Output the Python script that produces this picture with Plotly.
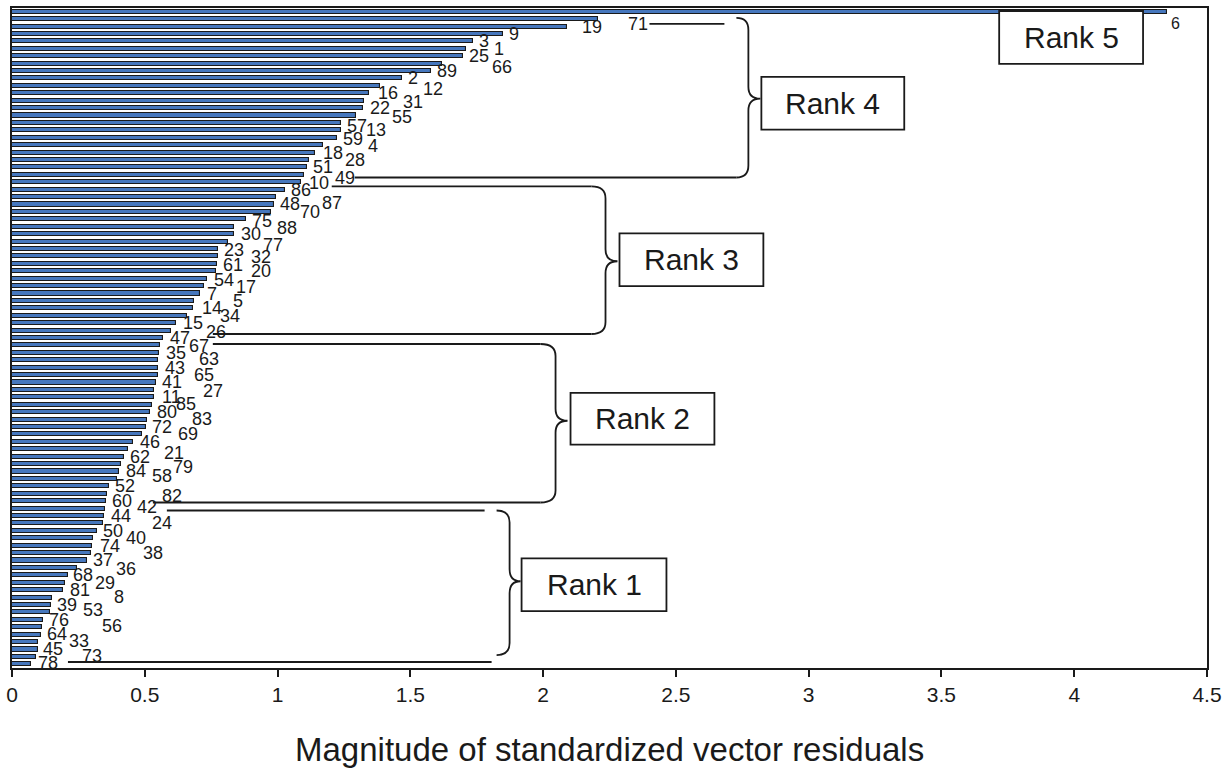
import plotly.graph_objects as go

# ---------------- data (top to bottom, sorted by magnitude) ----------------
case_ids = [6, 71, 19, 9, 3, 1, 25, 66, 89, 2, 12, 16, 31, 22, 55, 57, 13, 59, 4, 18,
            28, 51, 49, 10, 86, 48, 70, 87, 75, 88, 30, 77, 23, 32, 61, 20, 54, 17, 7, 5,
            14, 34, 15, 26, 47, 67, 35, 63, 43, 65, 41, 27, 11, 85, 80, 83, 72, 69, 46, 21,
            62, 79, 84, 58, 52, 82, 60, 42, 44, 24, 50, 40, 74, 38, 37, 36, 68, 29, 81, 8,
            39, 53, 76, 56, 64, 33, 45, 73, 78]
magnitudes = [4.35, 2.205, 2.09, 1.85, 1.735, 1.71, 1.70, 1.62, 1.577, 1.47,
              1.385, 1.345, 1.325, 1.32, 1.294, 1.24, 1.24, 1.224, 1.17, 1.14,
              1.118, 1.11, 1.10, 1.09, 1.027, 0.993, 0.986, 0.977, 0.883, 0.836,
              0.836, 0.813, 0.774, 0.774, 0.772, 0.768, 0.735, 0.724, 0.707, 0.686,
              0.682, 0.66, 0.616, 0.60, 0.57, 0.557, 0.554, 0.551, 0.548, 0.548,
              0.544, 0.535, 0.533, 0.529, 0.519, 0.51, 0.504, 0.488, 0.456, 0.437,
              0.421, 0.409, 0.404, 0.394, 0.365, 0.359, 0.354, 0.35, 0.348, 0.344,
              0.319, 0.306, 0.30, 0.296, 0.281, 0.243, 0.21, 0.20, 0.193, 0.149,
              0.145, 0.143, 0.115, 0.112, 0.108, 0.099, 0.097, 0.09, 0.071]
rank_names = ["Rank 5", "Rank 4", "Rank 3", "Rank 2", "Rank 1"]
x_ticks = [0, 0.5, 1, 1.5, 2, 2.5, 3, 3.5, 4, 4.5]
x_tick_text = ["0", "0.5", "1", "1.5", "2", "2.5", "3", "3.5", "4", "4.5"]
x_title = "Magnitude of standardized vector residuals"

# ---------------- label placement tweaks (pixels, layout only) ----------------
label_dx = [4, 30, 15, 6, 6, 28, 6, 50, 6, 6, 43, 9, 39, 7, 36, 6, 25, 6, 45, 8,
            36, 6, 31, 8, 6, 4, 26, 51, 6, 43, 7, 35, 6, 33, 6, 35, 7, 32, 7, 39,
            9, 33, 7, 35, 7, 29, 7, 41, 7, 36, 6, 49, 8, 24, 7, 45, 6, 36, 7, 36,
            6, 52, 7, 35, 6, 55, 6, 32, 7, 49, 6, 33, 8, 52, 6, 39, 5, 30, 7, 62,
            6, 33, 6, 60, 6, 31, 5, 46, 7]
label_dy = [12, 5, 0, 0, 0, 0, 0, 3, 0, 0, 3, 0, 1, 0, 1, 3, 0, 1, 1, 0,
            0, 0, 3, 1, 0, 7, 7, -9, 2, 1, 0, 3, 1, 1, 1, 0, 1, 1, 0, 0,
            0, 0, 0, 1, 0, 1, 0, -1, 0, 0, 0, 1, 0, -1, 0, -1, 0, 0, 0, 4,
            0, 3, 0, -3, 0, 2, 0, -2, 0, 0, 0, 0, 0, 0, 0, 1, 0, 0, 0, -1,
            0, -2, 0, -1, -1, -1, 0, -1, -1]

W, H = 1228, 773
L, R, T, B = 12, 20, 6, 105
PW, PH = W - L - R, H - T - B
FONT = "Liberation Sans, Arial, Helvetica, sans-serif"
INK = "#1a1a1a"


def px(x):
    return (x - L) / PW


def py(y):
    return 1 - (y - T) / PH


n = len(magnitudes)
positions = list(range(n))

fig = go.Figure()
fig.add_trace(go.Bar(
    x=magnitudes, y=positions, orientation="h", width=0.55,
    marker=dict(color="#4677bd", line=dict(color=INK, width=1.1)),
    hoverinfo="x+text", text=[str(c) for c in case_ids], textposition="none",
    showlegend=False,
))

annotations = []
for i, (cid, val) in enumerate(zip(case_ids, magnitudes)):
    annotations.append(dict(
        x=val, y=i, xref="x", yref="y", text=str(cid), showarrow=False,
        xanchor="left", yanchor="middle", xshift=label_dx[i] - 2, yshift=-label_dy[i],
        font=dict(family=FONT, size=16 if i == 0 else 18, color=INK),
    ))

shapes = []
line_style = dict(color=INK, width=1.8)


def hline(x0, x1, y):
    shapes.append(dict(type="line", xref="paper", yref="paper",
                       x0=px(x0), x1=px(x1), y0=py(y), y1=py(y), line=line_style))


def brace(xl, xv, xt, ytop, ytip, ybot, r=12):
    pts = [
        ("M", [(xl, ytop)]),
        ("Q", [(xv, ytop), (xv, ytop + r)]),
        ("L", [(xv, ytip - r)]),
        ("Q", [(xv, ytip), (xt, ytip)]),
        ("Q", [(xv, ytip), (xv, ytip + r)]),
        ("L", [(xv, ybot - r)]),
        ("Q", [(xv, ybot), (xl, ybot)]),
    ]
    path = " ".join(cmd + " " + " ".join(f"{px(a):.5f},{py(b):.5f}" for a, b in p) for cmd, p in pts)
    shapes.append(dict(type="path", xref="paper", yref="paper", path=path, line=line_style))


def box(x0, y0, x1, y1, label):
    shapes.append(dict(type="rect", xref="paper", yref="paper", layer="above",
                       x0=px(x0), x1=px(x1), y0=py(y1), y1=py(y0),
                       fillcolor="white", line=dict(color=INK, width=1.8)))
    annotations.append(dict(x=px((x0 + x1) / 2), y=py((y0 + y1) / 2), xref="paper", yref="paper",
                            text=label, showarrow=False, xanchor="center", yanchor="middle",
                            font=dict(family=FONT, size=30, color=INK)))


# Rank 4
hline(650, 725, 22)
hline(355, 737, 176)
brace(737, 749, 761, 16, 97, 176)
# Rank 3
hline(332, 592, 185)
hline(213, 592, 333)
brace(592, 606, 618, 185, 260, 333)
# Rank 2
hline(213, 541, 343)
hline(153, 541, 502)
brace(541, 556, 568, 343, 420, 502)
# Rank 1
hline(167, 485, 510)
hline(68, 492, 662)
brace(497, 510, 521, 510, 581, 655)

box(1000, 9, 1144, 62, rank_names[0])
box(762, 75, 905, 128, rank_names[1])
box(620, 232, 764, 285, rank_names[2])
box(571, 392, 715, 444, rank_names[3])
box(522, 558, 667, 611, rank_names[4])

annotations.append(dict(x=0.5, y=py(750), xref="paper", yref="paper", text=x_title,
                        showarrow=False, xanchor="center", yanchor="middle",
                        font=dict(family=FONT, size=33, color=INK)))

fig.update_layout(
    width=W, height=H,
    margin=dict(l=L, r=R, t=T, b=B, pad=0),
    paper_bgcolor="white", plot_bgcolor="white",
    bargap=0, showlegend=False,
    xaxis=dict(range=[0, 4.5], tickvals=x_ticks, ticktext=x_tick_text,
               ticks="outside", ticklen=7, tickwidth=1.5, tickcolor=INK,
               showline=True, linecolor=INK, linewidth=1.5, mirror=True,
               showgrid=False, zeroline=False,
               tickfont=dict(family=FONT, size=21, color=INK)),
    yaxis=dict(range=[n - 0.5, -0.5], showticklabels=False, ticks="",
               showline=True, linecolor=INK, linewidth=1.5, mirror=True,
               showgrid=False, zeroline=False),
    annotations=annotations,
    shapes=shapes,
)

fig.write_html("out.html", config={"displayModeBar": False},
               post_script="document.body.style.margin='0px';document.body.style.overflow='hidden';")
